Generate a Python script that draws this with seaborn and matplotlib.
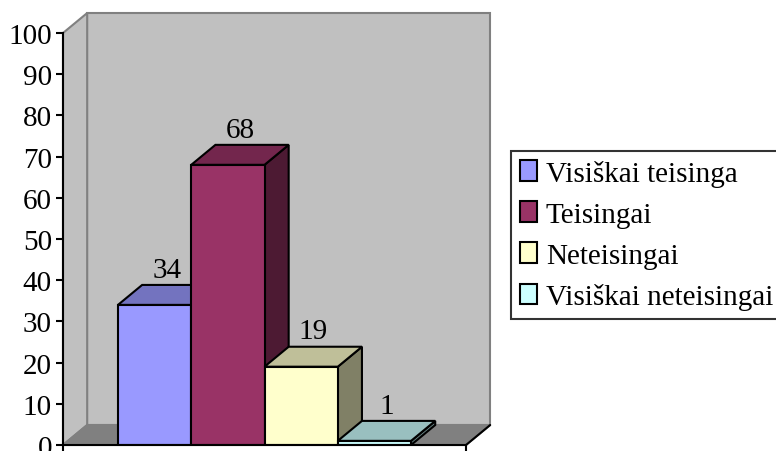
import matplotlib
matplotlib.use("Agg")
import matplotlib.pyplot as plt
import matplotlib.colors as mcolors
from matplotlib.patches import Polygon, Patch
import seaborn as sns
import pandas as pd

# Duomenys
categories = ["Visiškai teisinga", "Teisingai", "Neteisingai", "Visiškai neteisingai"]
values = [34, 68, 19, 1]
colors = ["#9999FF", "#993366", "#FFFFCC", "#CCFFFF"]
y_ticks = list(range(0, 101, 10))

df = pd.DataFrame({"kategorija": categories, "proc": values})

sns.set_theme(style="white")
plt.rcParams["font.family"] = ["Liberation Serif", "DejaVu Serif"]
plt.rcParams["text.color"] = "black"

fig = plt.figure(figsize=(7.76, 4.52), dpi=100)
fig.patch.set_facecolor("white")
ax = fig.add_axes([63 / 776, 1 - 446 / 452, 403 / 776, 412 / 452])
ax.set_facecolor("none")

sns.barplot(data=df, x="kategorija", y="proc", hue="kategorija", palette=colors,
            saturation=1, width=1, edgecolor="black", linewidth=1.5,
            legend=False, ax=ax)
bars = list(ax.patches)

# pseudo 3D geometry
x0, x1 = -1.25, 4.25
dx, dy = 0.33, 4.85
ax.set_xlim(x0, x1)
ax.set_ylim(0, 100)

wall = "#C0C0C0"
wall_edge = "#808080"
ax.add_patch(Polygon([(x0 + dx, dy), (x1 + dx, dy), (x1 + dx, 100 + dy), (x0 + dx, 100 + dy)],
                     closed=True, fc=wall, ec=wall_edge, lw=1.5, clip_on=False, zorder=0.5))
ax.add_patch(Polygon([(x0, 0), (x0 + dx, dy), (x0 + dx, 100 + dy), (x0, 100)],
                     closed=True, fc=wall, ec=wall_edge, lw=1.5, clip_on=False, zorder=0.6))
ax.add_patch(Polygon([(x0, 0), (x1, 0), (x1 + dx, dy), (x0 + dx, dy)],
                     closed=True, fc="#808080", ec="#808080", lw=1.5, clip_on=False, zorder=0.7))
ax.plot([x1, x1 + dx], [0, dy], color="black", lw=1.5, clip_on=False, zorder=0.8)


def shade(c, f):
    r, g, b = mcolors.to_rgb(c)
    return (r * f, g * f, b * f)


for i, (p, v) in enumerate(zip(bars, values)):
    bx, w, h = p.get_x(), p.get_width(), p.get_height()
    fc = p.get_facecolor()
    base = 3 + 2 * i
    top = Polygon([(bx, h), (bx + w, h), (bx + w + dx, h + dy), (bx + dx, h + dy)],
                  closed=True, fc=shade(fc, 0.75), ec="black", lw=1.5, zorder=base, clip_on=False)
    side = Polygon([(bx + w, 0), (bx + w + dx, dy), (bx + w + dx, h + dy), (bx + w, h)],
                   closed=True, fc=shade(fc, 0.5), ec="black", lw=1.5, zorder=base, clip_on=False)
    ax.add_patch(side)
    ax.add_patch(top)
    p.set_zorder(base + 1)
    ax.annotate(str(v), (bx + w / 2 + dx / 2, h + dy), xytext=(0, 6), textcoords="offset points",
                ha="center", va="baseline", fontsize=21, color="black", zorder=20)

ax.set_xlabel("")
ax.set_ylabel("")
ax.set_yticks(y_ticks)
ax.set_xticks([x0, x1])
ax.set_xticklabels(["", ""])
ax.tick_params(axis="y", left=True, direction="out", length=5, width=1.5, color="black",
               labelsize=21, labelcolor="black", pad=3)
ax.tick_params(axis="x", bottom=True, direction="out", length=5, width=1.5, color="black")
for s in ["top", "right"]:
    ax.spines[s].set_visible(False)
for s in ["left", "bottom"]:
    ax.spines[s].set_color("black")
    ax.spines[s].set_linewidth(1.5)
    ax.spines[s].set_zorder(15)

handles = [Patch(facecolor=c, edgecolor="black", linewidth=1.5) for c in colors]
leg = fig.legend(handles, categories, loc="upper left", bbox_to_anchor=(511 / 776, 1 - 152 / 452),
                 frameon=True, fancybox=False, edgecolor="black", facecolor="white",
                 fontsize=21, labelcolor="black", handlelength=0.6, handleheight=0.7,
                 handletextpad=0.3, labelspacing=0.5, borderpad=0.3, borderaxespad=0)
leg.get_frame().set_linewidth(1.5)

fig.savefig("out.png", dpi=100)
